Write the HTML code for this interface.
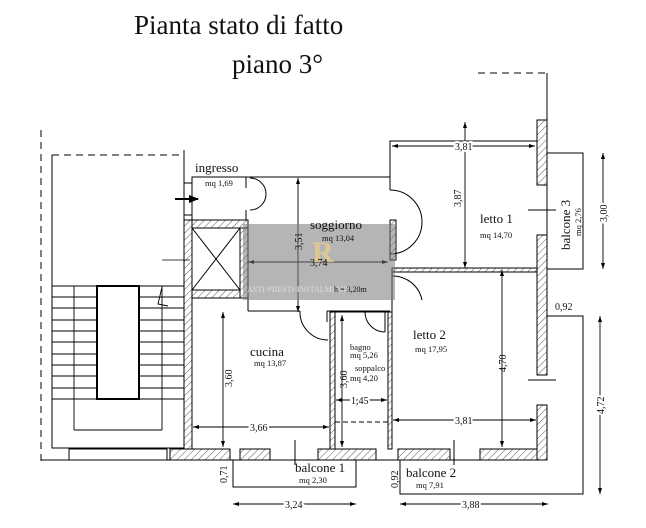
<!DOCTYPE html>
<html><head><meta charset="utf-8"><style>
html,body{margin:0;padding:0;background:#fff}
svg{display:block}
text{font-family:"Liberation Serif",serif;fill:#111}
</style></head><body>
<svg width="646" height="528" viewBox="0 0 646 528" xmlns="http://www.w3.org/2000/svg">
<defs>
<pattern id="h" width="5" height="5" patternUnits="userSpaceOnUse" patternTransform="rotate(45)">
<rect width="5" height="5" fill="#fff"/><line x1="0" y1="0" x2="0" y2="5" stroke="#333" stroke-width="0.8"/>
</pattern>
<marker id="a" markerWidth="6" markerHeight="4" refX="6" refY="2" orient="auto-start-reverse" markerUnits="userSpaceOnUse"><path d="M0,0 L6,2 L0,4 z" fill="#000"/></marker>
<marker id="b" markerWidth="10" markerHeight="8" refX="9" refY="4" orient="auto" markerUnits="userSpaceOnUse"><path d="M0,0 L10,4 L0,8 z" fill="#000"/></marker>
</defs>
<text x="134" y="34" font-size="27">Pianta stato di fatto</text>
<text x="232" y="73" font-size="27">piano 3°</text>

<g stroke="#000" fill="none" stroke-width="1">
<line x1="41" y1="130" x2="41" y2="462" stroke-dasharray="7,5"/>
<line x1="52" y1="155" x2="184" y2="155" stroke-dasharray="7,5"/>
<line x1="478" y1="73" x2="547" y2="73" stroke-dasharray="7,5"/>
<line x1="547" y1="73" x2="547" y2="120"/>
<polyline points="52,155 52,448 184,448"/>
<line x1="184" y1="150" x2="184" y2="220"/>
<line x1="184" y1="183" x2="192" y2="183"/><line x1="184" y1="215" x2="192" y2="215"/>
<g stroke-width="0.9">
<line x1="52" y1="286" x2="184" y2="286"/><line x1="52" y1="297" x2="184" y2="297"/>
<line x1="52" y1="308" x2="184" y2="308"/><line x1="52" y1="320" x2="184" y2="320"/>
<line x1="52" y1="331" x2="184" y2="331"/><line x1="52" y1="342" x2="184" y2="342"/>
<line x1="52" y1="354" x2="184" y2="354"/><line x1="52" y1="365" x2="184" y2="365"/>
<line x1="52" y1="376" x2="184" y2="376"/><line x1="52" y1="388" x2="184" y2="388"/>
<line x1="52" y1="399" x2="184" y2="399"/>
<line x1="74" y1="286" x2="74" y2="430"/><line x1="162" y1="286" x2="162" y2="430"/>
<line x1="74" y1="430" x2="162" y2="430"/>
<polyline points="162,287 158,304 168,306"/>
</g>
<rect x="97" y="286" width="42" height="113" fill="#fff" stroke-width="2"/>
<line x1="41" y1="460" x2="184" y2="460"/>
<rect x="69" y="449" width="98" height="11"/>
</g>

<g fill="url(#h)" stroke="#000" stroke-width="1">
<rect x="184" y="220" width="8" height="240"/>
<rect x="192" y="220" width="56" height="8"/>
<rect x="240" y="228" width="8" height="70"/>
<rect x="192" y="290" width="48" height="8"/>
<rect x="170" y="449" width="60" height="11"/>
<rect x="240" y="449" width="30" height="11"/>
<rect x="318" y="449" width="58" height="11"/>
<rect x="398" y="449" width="52" height="11"/>
<rect x="480" y="449" width="67" height="11"/>
<rect x="537" y="120" width="10" height="65"/>
<rect x="537" y="235" width="10" height="140"/>
<rect x="537" y="405" width="10" height="55"/>
<rect x="392" y="268" width="145" height="4"/>
<rect x="330" y="312" width="5" height="137"/>
<rect x="388" y="312" width="4" height="137"/>
<rect x="390" y="220" width="6" height="40"/>
</g>

<g stroke="#000" fill="none" stroke-width="1">
<rect x="192" y="228" width="48" height="62"/>
<line x1="192" y1="228" x2="240" y2="290"/><line x1="240" y1="228" x2="192" y2="290"/>
<polyline points="246,188 246,177 192,177 192,220"/>
<line x1="246" y1="177" x2="390" y2="177"/>
<line x1="246" y1="220" x2="246" y2="210"/>
<path d="M250,178 A16,16 0 0 1 266,194 M250,210 A16,16 0 0 0 266,194"/>
<line x1="390" y1="177" x2="390" y2="190"/>
<path d="M390,190 A32,32 0 0 1 422,222 A32,32 0 0 1 390,254"/>
<line x1="248" y1="297" x2="248" y2="311"/><line x1="248" y1="311" x2="300" y2="311"/>
<line x1="327" y1="311" x2="390" y2="311"/>
<path d="M327,311 L327,322 M300,311 A28,28 0 0 0 328,340"/>
<path d="M365,312 A20,20 0 0 0 385,332 M385,312 L385,332"/>
<polyline points="390,178 390,141 537,141"/>
<line x1="192" y1="298" x2="192" y2="449"/>
<line x1="335" y1="312" x2="388" y2="312"/>
<line x1="392" y1="272" x2="392" y2="449"/>
<line x1="392" y1="272" x2="408" y2="272"/>
<path d="M392,276 A30,30 0 0 1 422,300"/>
<line x1="335" y1="422" x2="388" y2="422" stroke-dasharray="5,3"/>
<line x1="170" y1="460" x2="547" y2="460"/>
<rect x="547" y="153" width="36" height="116"/>
<polyline points="233,460 233,487 356,487 356,460"/>
<polyline points="400,460 400,494 583,494 583,316 547,316"/>
<line x1="537" y1="185" x2="547" y2="185"/><line x1="537" y1="235" x2="547" y2="235"/>
<line x1="528" y1="210" x2="556" y2="210"/>
<line x1="528" y1="380" x2="556" y2="380"/>
<line x1="295" y1="440" x2="295" y2="465"/>
<line x1="454" y1="440" x2="454" y2="465"/>
<line x1="162" y1="260" x2="190" y2="260" stroke-width="0.8"/>
</g>
<line x1="175" y1="199" x2="198" y2="199" stroke="#000" stroke-width="2" marker-end="url(#b)"/>

<g stroke="#000" stroke-width="0.9" marker-start="url(#a)" marker-end="url(#a)">
<line x1="392" y1="146" x2="535" y2="146"/>
<line x1="465" y1="122" x2="465" y2="268"/>
<line x1="298" y1="178" x2="298" y2="312"/>
<line x1="248" y1="262" x2="388" y2="262"/>
<line x1="223" y1="312" x2="223" y2="447"/>
<line x1="193" y1="427" x2="329" y2="427"/>
<line x1="342" y1="315" x2="342" y2="447"/>
<line x1="336" y1="400" x2="387" y2="400"/>
<line x1="502" y1="270" x2="502" y2="447"/>
<line x1="393" y1="420" x2="536" y2="420"/>
<line x1="603" y1="153" x2="603" y2="269"/>
<line x1="600" y1="316" x2="600" y2="494"/>
<line x1="233" y1="504" x2="356" y2="504"/>
<line x1="400" y1="504" x2="548" y2="504"/>
</g>
<rect x="243" y="224" width="152" height="76" fill="rgba(120,120,120,0.55)"/>
<text x="312" y="262" font-size="30" style="fill:#e6cf8a;font-weight:bold;opacity:0.8">R</text>
<text x="247" y="292" font-size="8" style="fill:#ddd">ASTI·PRESTI·INSTALMENTI</text>
<text x="334" y="292" font-size="8">h = 3,20m</text>

<g font-size="13">
<text x="195" y="172">ingresso</text>
<text x="310" y="229">soggiorno</text>
<text x="480" y="223">letto 1</text>
<text x="250" y="356">cucina</text>
<text x="413" y="339">letto 2</text>
<text x="295" y="472">balcone 1</text>
<text x="406" y="477">balcone 2</text>
<text x="570" y="250" transform="rotate(-90 570 250)">balcone 3</text>
</g>
<g font-size="8.5">
<text x="205" y="186">mq 1,69</text>
<text x="322" y="241">mq 13,04</text>
<text x="480" y="238">mq 14,70</text>
<text x="254" y="366">mq 13,87</text>
<text x="350" y="350">bagno</text>
<text x="350" y="358">mq 5,26</text>
<text x="355" y="371">soppalco</text>
<text x="350" y="381">mq 4,20</text>
<text x="415" y="352">mq 17,95</text>
<text x="299" y="483">mq 2,30</text>
<text x="416" y="488">mq 7,91</text>
<text x="581" y="236" transform="rotate(-90 581 236)">mq 2,76</text>
</g>
<g font-size="10">
<text x="455" y="150" style="paint-order:stroke;stroke:#fff;stroke-width:4">3,81</text>
<text x="461" y="207" transform="rotate(-90 461 207)">3,87</text>
<text x="302" y="250" transform="rotate(-90 302 250)">3,51</text>
<text x="310" y="266">3,74</text>
<text x="232" y="387" transform="rotate(-90 232 387)">3,60</text>
<text x="250" y="431" style="paint-order:stroke;stroke:#fff;stroke-width:4">3,66</text>
<text x="347" y="388" transform="rotate(-90 347 388)">3,60</text>
<text x="351" y="404" style="paint-order:stroke;stroke:#fff;stroke-width:4">1,45</text>
<text x="506" y="372" transform="rotate(-90 506 372)">4,70</text>
<text x="455" y="424" style="paint-order:stroke;stroke:#fff;stroke-width:4">3,81</text>
<text x="607" y="222" transform="rotate(-90 607 222)" style="paint-order:stroke;stroke:#fff;stroke-width:4">3,00</text>
<text x="555" y="310">0,92</text>
<text x="604" y="414" transform="rotate(-90 604 414)" style="paint-order:stroke;stroke:#fff;stroke-width:4">4,72</text>
<text x="285" y="508" style="paint-order:stroke;stroke:#fff;stroke-width:4">3,24</text>
<text x="462" y="508" style="paint-order:stroke;stroke:#fff;stroke-width:4">3,88</text>
<text x="227" y="483" transform="rotate(-90 227 483)">0,71</text>
<text x="398" y="488" transform="rotate(-90 398 488)">0,92</text>
</g>
</svg>
</body></html>
